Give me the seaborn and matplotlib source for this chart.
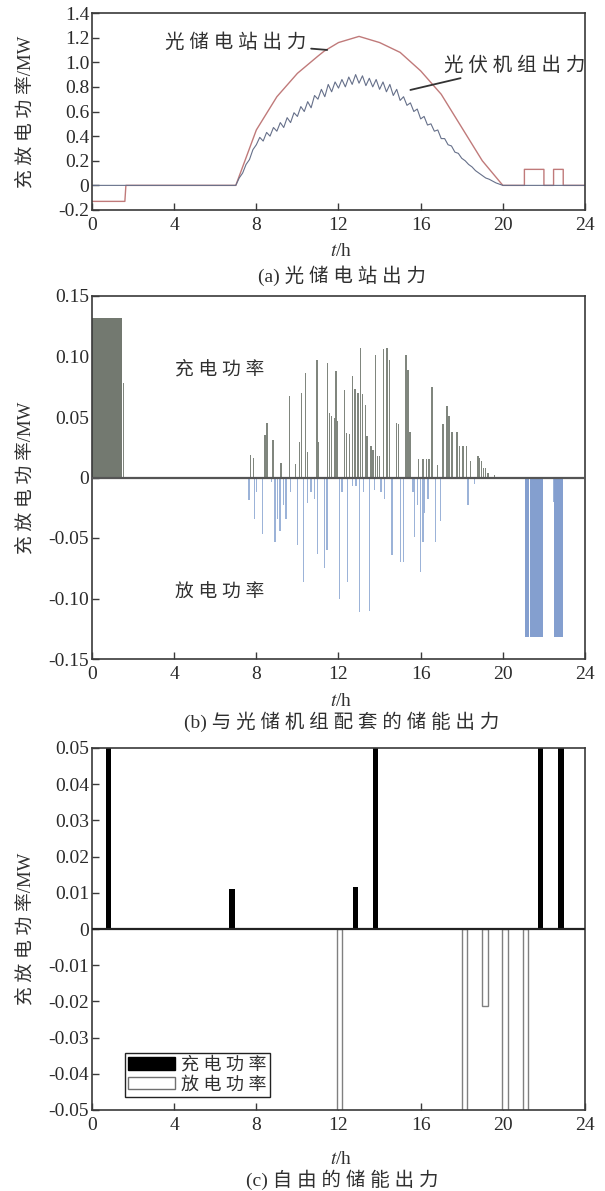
import numpy as np
import matplotlib
matplotlib.use("Agg")
import matplotlib.pyplot as plt
from matplotlib.patches import Patch
import seaborn as sns

# ---------------- data ----------------
hours_ticks = [0, 4, 8, 12, 16, 20, 24]

# (a) station output (光储电站出力)
station_t = [0, 1.6, 1.65, 7.0, 8.0, 9.0, 10.0, 11.0, 11.3, 12.0, 13.0, 14.0, 15.0,
             16.0, 17.0, 18.0, 19.0, 20.0, 21.05, 21.05, 22.0, 22.0, 22.47, 22.47,
             22.94, 22.94, 24]
station_v = [-0.13, -0.13, 0, 0, 0.45, 0.72, 0.91, 1.05, 1.09, 1.16, 1.21, 1.16, 1.08,
             0.93, 0.74, 0.47, 0.20, 0, 0, 0.13, 0.13, 0, 0, 0.13, 0.13, 0, 0]

# (a) PV output (光伏机组出力), 10-min samples from 7:00 to 20:00
pv_day_v = [0.00, 0.06, 0.10, 0.17, 0.21, 0.29,
            0.33, 0.39, 0.36, 0.43, 0.40, 0.47,
            0.44, 0.51, 0.47, 0.55, 0.51, 0.59,
            0.56, 0.64, 0.60, 0.68, 0.63, 0.73,
            0.70, 0.78, 0.72, 0.82, 0.76, 0.84,
            0.79, 0.86, 0.80, 0.88, 0.82, 0.90,
            0.83, 0.89, 0.81, 0.87, 0.80, 0.86,
            0.78, 0.84, 0.76, 0.82, 0.73, 0.78,
            0.69, 0.72, 0.65, 0.67, 0.60, 0.62,
            0.54, 0.56, 0.49, 0.50, 0.44, 0.45,
            0.38, 0.38, 0.33, 0.32, 0.27, 0.26,
            0.22, 0.20, 0.17, 0.15, 0.12, 0.10,
            0.08, 0.06, 0.05, 0.035, 0.02, 0.01,
            0.00]
pv_day_t = list(np.linspace(7.0, 20.0, len(pv_day_v)))
pv_t = [0.0] + pv_day_t + [24.0]
pv_v = [0.0] + pv_day_v + [0.0]

# (b) storage attached to PV units
chg_blk_t = [0.121, 0.363, 0.604, 0.846, 1.088, 1.329]
chg_blk_v = [0.132, 0.132, 0.132, 0.132, 0.132, 0.132]
chg_t = [1.53, 7.73, 7.86, 8.43, 8.51, 8.82, 9.20, 9.62, 9.90, 10.09, 10.19, 10.38, 10.50,
         10.95, 11.03, 11.47, 11.55, 11.67, 11.80, 11.88, 11.96, 12.28, 12.40, 12.53,
         12.69, 12.80, 12.94, 13.07, 13.18, 13.31, 13.39, 13.59, 13.68, 13.80, 13.91,
         13.99, 14.20, 14.37, 14.48, 14.81, 14.92, 15.29, 15.38, 15.49, 15.90, 16.11,
         16.27, 16.40, 16.56, 16.81, 17.08, 17.28, 17.38, 17.52, 17.77, 17.90, 18.06,
         18.22, 18.43, 18.79, 18.87, 18.95, 19.07, 19.17, 19.28, 19.60]
chg_v = [0.078, 0.019, 0.016, 0.035, 0.045, 0.031, 0.012, 0.067, 0.011, 0.029, 0.070,
         0.086, 0.021, 0.097, 0.029, 0.095, 0.053, 0.051, 0.049, 0.088, 0.047, 0.072,
         0.037, 0.036, 0.084, 0.073, 0.070, 0.107, 0.069, 0.060, 0.034, 0.026, 0.023,
         0.101, 0.018, 0.018, 0.106, 0.107, 0.097, 0.045, 0.044, 0.101, 0.089, 0.038,
         0.015, 0.015, 0.015, 0.015, 0.075, 0.010, 0.044, 0.059, 0.051, 0.038, 0.038,
         0.026, 0.026, 0.026, 0.014, 0.018, 0.016, 0.014, 0.008, 0.008, 0.004, 0.002]
dis_t = [7.65, 7.90, 8.02, 8.30, 8.73, 8.90, 9.03, 9.15, 9.32, 9.44, 9.65, 10.00, 10.30,
         10.50, 10.66, 10.82, 10.98, 11.31, 11.44, 12.04, 12.17, 12.45, 12.69, 12.85,
         13.02, 13.23, 13.50, 13.75, 14.07, 14.24, 14.61, 15.02, 15.16, 15.62, 15.70,
         15.86, 15.99, 16.11, 16.19, 16.35, 16.73, 16.97, 18.30, 18.63, 22.47]
dis_v = [-0.019, -0.034, -0.012, -0.047, -0.004, -0.053, -0.034, -0.044, -0.023, -0.034,
         -0.012, -0.056, -0.086, -0.021, -0.012, -0.018, -0.063, -0.075, -0.060, -0.100,
         -0.012, -0.086, -0.007, -0.007, -0.111, -0.012, -0.110, -0.010, -0.012, -0.018,
         -0.064, -0.070, -0.070, -0.012, -0.049, -0.023, -0.078, -0.053, -0.029, -0.018,
         -0.053, -0.036, -0.023, -0.005, -0.020]
dis_blk_t = [21.18, 21.41, 21.64, 21.87, 22.61, 22.84]
dis_blk_v = [-0.132, -0.132, -0.132, -0.132, -0.132, -0.132]

# (c) free storage
free_chg_t = [0.81, 6.81, 12.83, 13.81, 21.83, 22.83]
free_chg_v = [0.06, 0.0111, 0.0117, 0.06, 0.06, 0.06]
free_dis_t = [12.05, 18.13, 19.13, 20.12, 21.10]
free_dis_v = [-0.06, -0.06, -0.0212, -0.06, -0.06]

ya_ticks = [-0.2, 0, 0.2, 0.4, 0.6, 0.8, 1.0, 1.2, 1.4]
ya_labels = ["-0.2", "0", "0.2", "0.4", "0.6", "0.8", "1.0", "1.2", "1.4"]
yb_ticks = [-0.15, -0.10, -0.05, 0, 0.05, 0.10, 0.15]
yb_labels = ["-0.15", "-0.10", "-0.05", "0", "0.05", "0.10", "0.15"]
yc_ticks = [-0.05, -0.04, -0.03, -0.02, -0.01, 0, 0.01, 0.02, 0.03, 0.04, 0.05]
yc_labels = ["-0.05", "-0.04", "-0.03", "-0.02", "-0.01", "0",
             "0.01", "0.02", "0.03", "0.04", "0.05"]

# ---------------- style ----------------
sns.set_theme(style="white")
plt.rcParams["font.family"] = ["Liberation Serif", "Noto Sans CJK SC"]
plt.rcParams["mathtext.fontset"] = "stix"
plt.rcParams["axes.unicode_minus"] = False

W, H = 605, 1191
fig = plt.figure(figsize=(W / 100, H / 100), dpi=100)


def add_ax(left, top, right, bottom):
    return fig.add_axes([left / W, 1 - bottom / H, (right - left) / W, (bottom - top) / H])


axA = add_ax(92, 13, 585, 210)
axB = add_ax(92, 296, 585, 659)
axC = add_ax(92, 748, 585, 1110)

TXT = "#303030"

# ---------------- panel (a) ----------------
sns.lineplot(x=station_t, y=station_v, sort=False, estimator=None,
             color="#c07a7a", lw=1.0, ax=axA)
sns.lineplot(x=pv_t, y=pv_v, sort=False, estimator=None,
             color="#66708a", lw=0.8, ax=axA)
axA.set_ylim(-0.2, 1.4)
axA.set_yticks(ya_ticks)
axA.set_yticklabels(ya_labels)
axA.annotate("光 储 电 站 出 力", xy=(11.45, 1.10), xytext=(7.0, 1.16),
             ha="center", va="center", fontsize=14, color=TXT,
             arrowprops=dict(arrowstyle="-", color="#333333", lw=1.3,
                             shrinkA=1, shrinkB=0))
axA.annotate("光 伏 机 组 出 力", xy=(15.5, 0.775), xytext=(20.6, 0.975),
             ha="center", va="center", fontsize=14, color=TXT,
             arrowprops=dict(arrowstyle="-", color="#333333", lw=1.3,
                             shrinkA=1, shrinkB=0))

# ---------------- panel (b) ----------------
sns.barplot(x=chg_blk_t, y=chg_blk_v, orient="x", native_scale=True, width=0.9,
            color="#737970", saturation=1, errorbar=None, linewidth=0, ax=axB)
sns.barplot(x=chg_t, y=chg_v, orient="x", native_scale=True, width=0.85,
            color="#80867e", saturation=1, errorbar=None, linewidth=0, ax=axB)
sns.barplot(x=dis_t, y=dis_v, orient="x", native_scale=True, width=0.85,
            color="#9cb3d8", saturation=1, errorbar=None, linewidth=0, ax=axB)
sns.barplot(x=dis_blk_t, y=dis_blk_v, orient="x", native_scale=True, width=0.92,
            color="#849fcf", saturation=1, errorbar=None, linewidth=0, ax=axB)
axB.axhline(0, color="#555555", lw=1.6, zorder=5)
axB.set_ylim(-0.15, 0.15)
axB.set_yticks(yb_ticks)
axB.set_yticklabels(yb_labels)
axB.text(6.23, 0.089, "充 电 功 率", ha="center", va="center", fontsize=13.5, color=TXT)
axB.text(6.23, -0.0955, "放 电 功 率", ha="center", va="center", fontsize=13.5, color=TXT)

# ---------------- panel (c) ----------------
sns.barplot(x=free_chg_t, y=free_chg_v, orient="x", native_scale=True, width=0.28,
            color="black", saturation=1, errorbar=None, linewidth=0, ax=axC)
sns.barplot(x=free_dis_t, y=free_dis_v, orient="x", native_scale=True, width=0.28,
            color="white", edgecolor="#808080", saturation=1, errorbar=None,
            linewidth=1.0, ax=axC)
axC.axhline(0, color="#222222", lw=1.6, zorder=5)
axC.set_ylim(-0.05, 0.05)
axC.set_yticks(yc_ticks)
axC.set_yticklabels(yc_labels)
handles = [Patch(facecolor="black", edgecolor="black"),
           Patch(facecolor="white", edgecolor="#707070")]
leg = axC.legend(handles, ["充 电 功 率", "放 电 功 率"], loc="lower left",
                 bbox_to_anchor=(0.066, 0.036), fontsize=13, frameon=True,
                 fancybox=False, edgecolor="#222222", framealpha=1,
                 borderpad=0.2, labelspacing=0.15, handlelength=2.6,
                 handleheight=0.7, handletextpad=0.3, borderaxespad=0)
leg.get_frame().set_linewidth(1.0)
for t in leg.get_texts():
    t.set_color(TXT)

# ---------------- common axis styling ----------------
for ax in (axA, axB, axC):
    ax.set_xlim(0, 24)
    ax.set_xticks(hours_ticks)
    ax.set_xticklabels([str(h) for h in hours_ticks])
    ax.set_xlabel("")
    ax.set_ylabel("")
    ax.grid(False)
    for s in ax.spines.values():
        s.set_visible(True)
        s.set_color("#3a3a3a")
        s.set_linewidth(1.2)
    ax.tick_params(axis="both", direction="in", length=5, width=1.0, color="#3a3a3a",
                   labelsize=14, labelcolor="#2a2a2a", top=False, right=False,
                   left=True, bottom=True)
    ax.tick_params(axis="y", pad=2)
    ax.tick_params(axis="x", pad=5)

# y labels
for (top, bottom) in [(13, 210), (296, 659), (748, 1110)]:
    fig.text(26 / W, 1 - ((top + bottom) / 2) / H, "充 放 电 功 率/MW", rotation=90,
             ha="center", va="center", fontsize=13.5, color=TXT)

# x labels and captions
for (yl, yc, cap) in [(252, 276, "(a) 光 储 电 站 出 力"),
                      (702, 722, "(b) 与 光 储 机 组 配 套 的 储 能 出 力"),
                      (1160, 1180, "(c) 自 由 的 储 能 出 力")]:
    fig.text(341 / W, 1 - yl / H, r"$t$/h", ha="center", va="center", fontsize=14, color=TXT)
    fig.text(342 / W, 1 - yc / H, cap, ha="center", va="center", fontsize=14, color=TXT)

fig.savefig("out.png", dpi=100)
